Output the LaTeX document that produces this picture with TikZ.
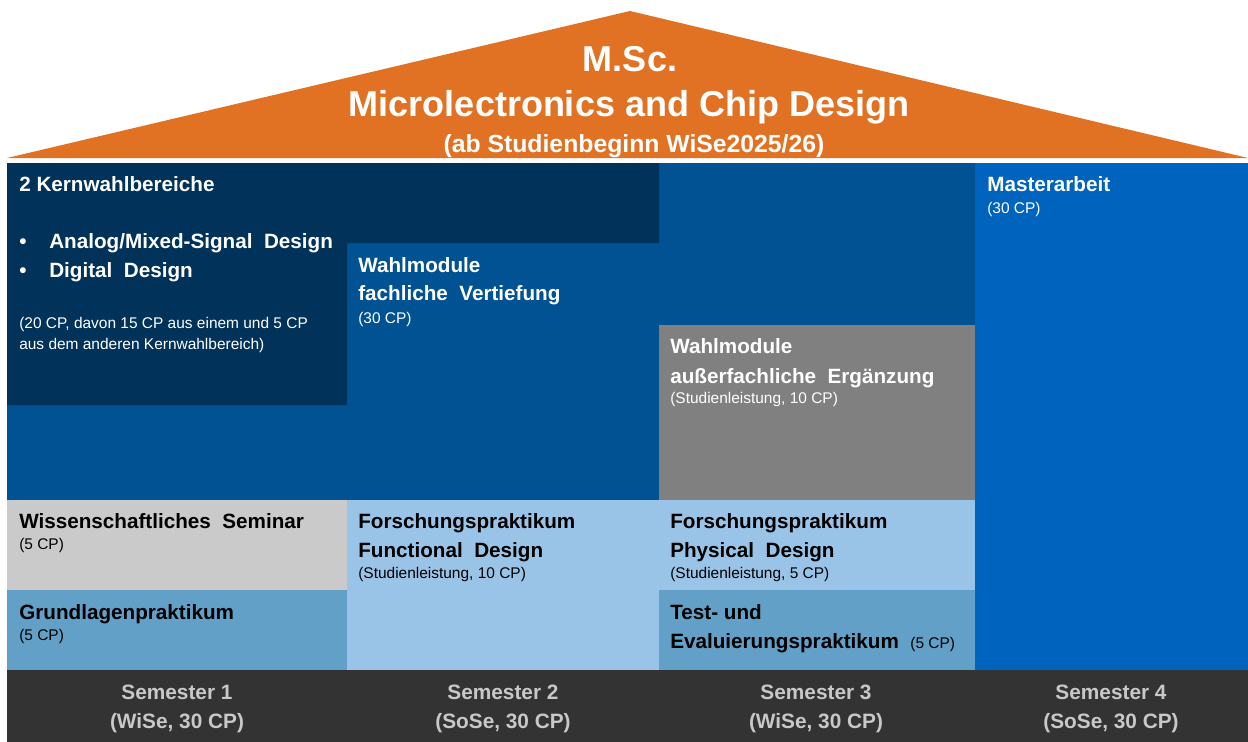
\documentclass[tikz,border=0pt]{standalone}
\usepackage{fontspec}
\setmainfont{Liberation Sans}

\definecolor{roof}{RGB}{225,114,36}
\definecolor{navy}{RGB}{0,50,90}
\definecolor{midblue}{RGB}{0,82,147}
\definecolor{thesis}{RGB}{0,100,190}
\definecolor{elective}{RGB}{128,128,128}
\definecolor{seminar}{RGB}{202,202,202}
\definecolor{research}{RGB}{153,196,232}
\definecolor{lab}{RGB}{98,160,200}
\definecolor{bar}{RGB}{51,51,51}
\definecolor{barText}{RGB}{200,200,200}

\tikzset{
  title/.style={anchor=base, text=white, font=\bfseries\fontsize{25.6}{28}\selectfont},
  head/.style={anchor=base west, font=\bfseries\fontsize{14.7}{17}\selectfont},
  cp/.style={anchor=base west, font=\fontsize{11}{13}\selectfont},
  sem/.style={anchor=base, text=barText, font=\bfseries\fontsize{14.8}{17}\selectfont}
}

\begin{document}
\begin{tikzpicture}
[x=0.025cm, y=-0.025cm, inner sep=0pt]
\useasboundingbox (0,0) rectangle (1248,742);

% roof
\fill [roof] (7,158) -- (630,11) -- (1248,158) -- cycle;

% blocks
\fill [midblue] (7,163) rectangle (975,500);
\fill [navy] (7,163) -- (659,163) -- (659,243) -- (347,243) -- (347,405) -- (7,405) -- cycle;
\fill [elective] (659,325) rectangle (975,500);
\fill [thesis] (975,163) rectangle (1248,670);
\fill [seminar] (7,500) rectangle (347,590);
\fill [lab] (7,590) rectangle (347,670);
\fill [research] (347,500) rectangle (975,590);
\fill [research] (347,590) rectangle (659,670);
\fill [lab] (659,590) rectangle (975,670);
\fill [bar] (7,670) rectangle (1248,742);

% roof text
\path (630,71) node (msc) [title] {M.Sc.}
(629,116) node (program) [title] {Microlectronics and Chip Design}
(634,152) node (start) [title, font=\bfseries\fontsize{17.6}{20}\selectfont] {(ab Studienbeginn WiSe2025/26)};

% semester 1
\path (19,191) node (kern) [head, text=white] {2 Kernwahlbereiche}
(19,248) node (bulletA) [head, text=white] {•}
(49,248) node (analog) [head, text=white] {Analog/Mixed-Signal\ \ Design}
(19,277) node (bulletB) [head, text=white] {•}
(49,277) node (digital) [head, text=white] {Digital\ \ Design}
(19,328) node (kerncp) [cp, text=white] {(20 CP, davon 15 CP aus einem und 5 CP}
(19,349) node (kerncpb) [cp, text=white] {aus dem anderen Kernwahlbereich)}
(19,528) node (seminar) [head] {Wissenschaftliches\ \ Seminar}
(19,549) node (seminarcp) [cp] {(5 CP)}
(19,619) node (grundlagen) [head] {Grundlagenpraktikum}
(19,640) node (grundlagencp) [cp] {(5 CP)};

% semester 2
\path (358,272) node (vertiefung) [head, text=white] {Wahlmodule}
(358,300) node (vertiefungb) [head, text=white] {fachliche\ \ Vertiefung}
(358,323) node (vertiefungcp) [cp, text=white] {(30 CP)}
(358,528) node (functional) [head] {Forschungspraktikum}
(358,557) node (functionalb) [head] {Functional\ \ Design}
(358,578) node (functionalcp) [cp] {(Studienleistung, 10 CP)};

% semester 3
\path (670,353) node (ergaenzung) [head, text=white] {Wahlmodule}
(670,383) node (ergaenzungb) [head, text=white] {außerfachliche\ \ Ergänzung}
(670,403) node (ergaenzungcp) [cp, text=white] {(Studienleistung, 10 CP)}
(670,528) node (physical) [head] {Forschungspraktikum}
(670,557) node (physicalb) [head] {Physical\ \ Design}
(670,578) node (physicalcp) [cp] {(Studienleistung, 5 CP)}
(670,619) node (test) [head] {Test- und}
(670,648) node (testb) [head] {Evaluierungspraktikum\ \ {\mdseries\fontsize{11}{13}\selectfont(5 CP)}};

% semester 4
\path (987,191) node (master) [head, text=white] {Masterarbeit}
(987,213) node (mastercp) [cp, text=white] {(30 CP)};

% semester bar
\path (177,699) node (semA) [sem] {Semester 1}
(177,728) node (semAcp) [sem] {(WiSe, 30 CP)}
(503,699) node (semB) [sem] {Semester 2}
(503,728) node (semBcp) [sem] {(SoSe, 30 CP)}
(816,699) node (semC) [sem] {Semester 3}
(816,728) node (semCcp) [sem] {(WiSe, 30 CP)}
(1111,699) node (semD) [sem] {Semester 4}
(1111,728) node (semDcp) [sem] {(SoSe, 30 CP)};
\end{tikzpicture}
\end{document}
